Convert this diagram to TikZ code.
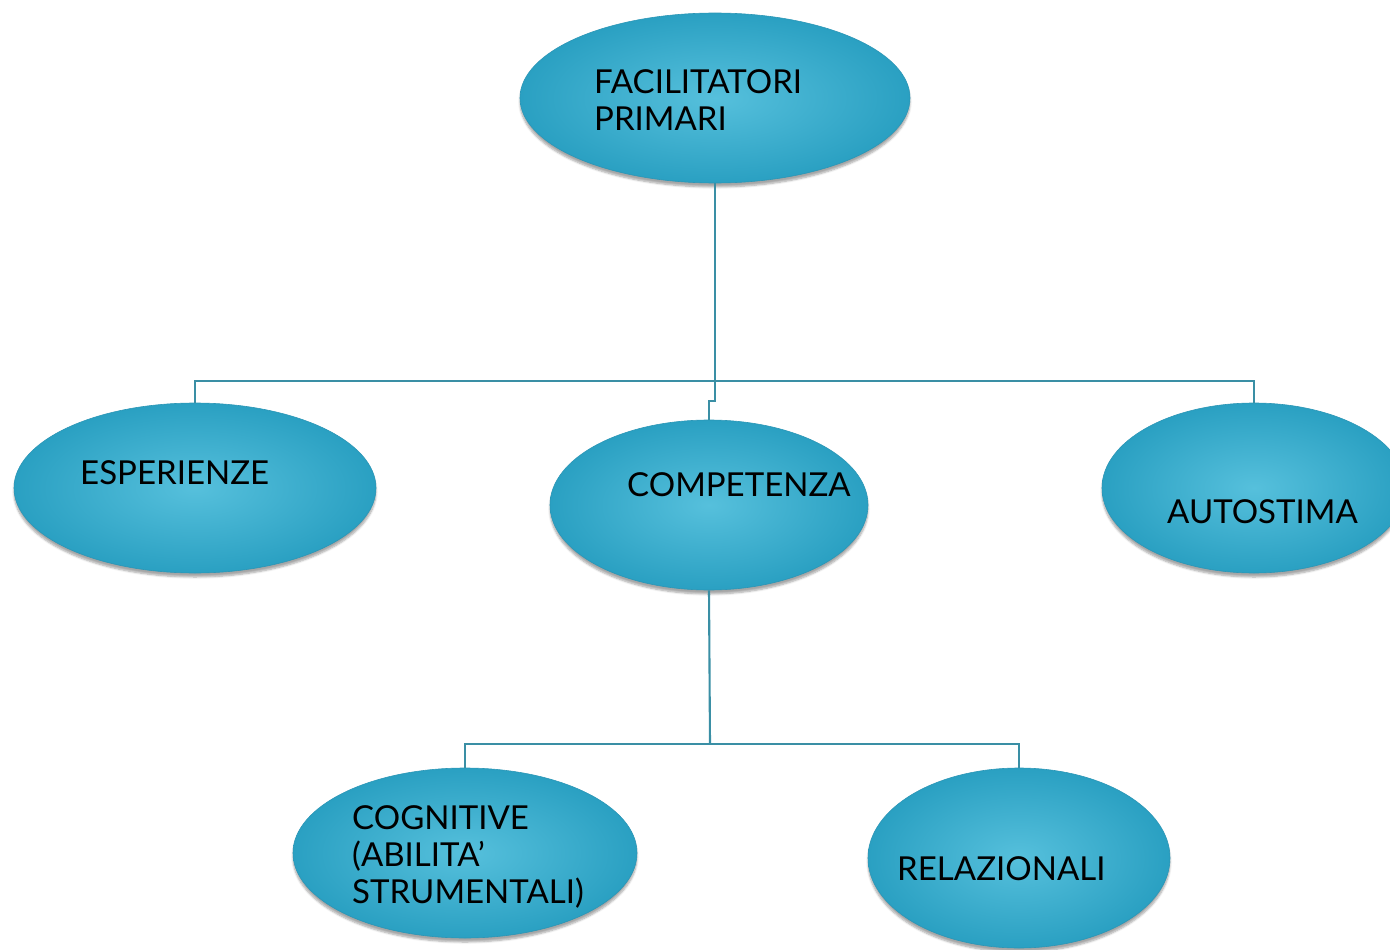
\documentclass[tikz,border=0pt]{standalone}
\usepackage{fontspec}
\setmainfont{Lato}
\usetikzlibrary{shapes.geometric,shadows.blur}
\definecolor{ellin}{RGB}{86,192,220}
\definecolor{ellout}{RGB}{42,160,194}
\definecolor{ellrim}{RGB}{44,150,182}
\definecolor{conncol}{RGB}{58,143,165}
\tikzset{
  bubble/.style={ellipse, inner sep=0pt, draw=ellrim, line width=0.6pt,
    inner color=ellin, outer color=ellout,
    blur shadow={shadow xshift=0pt, shadow yshift=-4pt, shadow blur steps=6, shadow opacity=35}},
  lbl/.style={anchor=base west, align=left, inner sep=0pt, font=\fontsize{33}{37}\selectfont, text=black},
  conn/.style={draw=conncol, line width=2.1pt}
}
\begin{document}
\begin{tikzpicture}[x=1pt,y=-1pt]
\useasboundingbox (0,0) rectangle (1390,950);
\coordinate (j1) at (715,381);
\coordinate (j1b) at (715,401);
\coordinate (j2) at (710,744);
\node[bubble, minimum width=390pt, minimum height=170pt] (fac) at (715,98) {};
\node[bubble, minimum width=362pt, minimum height=170pt] (esp) at (195,488) {};
\node[bubble, minimum width=318pt, minimum height=170pt] (comp) at (709,505) {};
\node[bubble, minimum width=304pt, minimum height=170pt] (auto) at (1254,488) {};
\node[bubble, minimum width=344pt, minimum height=170pt] (cog) at (465,853) {};
\node[bubble, minimum width=302pt, minimum height=180pt] (rel) at (1019,858) {};
\draw[conn] (fac.south) -- (j1b) -| (comp.north);
\draw[conn] (esp.north) |- (j1) -| (auto.north);
\draw[conn] (comp.south) -- (j2);
\draw[conn] (cog.north) |- (j2) -| (rel.north);
\node[lbl] (tfac) at (594,130) {FACILITATORI\\PRIMARI};
\node[lbl] (tesp) at (80,484) {ESPERIENZE};
\node[lbl] (tcomp) at (627,496) {COMPETENZA};
\node[lbl] (tauto) at (1167,523) {AUTOSTIMA};
\node[lbl] (tcog) at (352,903) {COGNITIVE\\(ABILITA’\\STRUMENTALI)};
\node[lbl] (trel) at (897,880) {RELAZIONALI};
\end{tikzpicture}
\end{document}
